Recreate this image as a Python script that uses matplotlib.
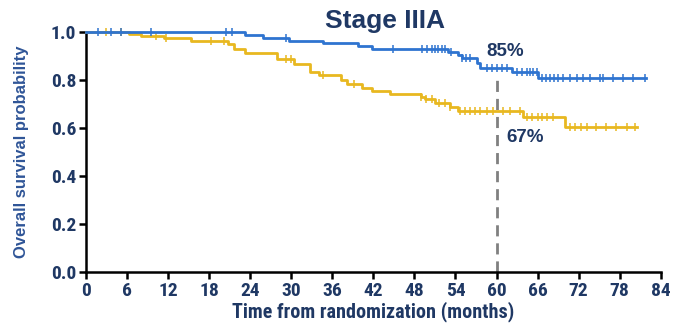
import matplotlib.pyplot as plt
from matplotlib import font_manager

# step curve data (months, survival)
blue_t = [0, 23.3, 25.8, 29.6, 34.7, 39.7, 41.8, 52.9, 54.4, 54.9, 57.1, 57.6, 62.2, 66.1, 81.9]
blue_s = [1.0, 0.988, 0.974, 0.964, 0.953, 0.942, 0.928, 0.918, 0.904, 0.890, 0.872, 0.849, 0.835, 0.807, 0.807]
blue_cens = [1.7, 3.6, 5.1, 9.5, 20.4, 21.4, 29.2, 44.9, 49.1, 49.8, 50.5, 51.0, 51.5, 52.0, 52.5,
             53.4, 55.0, 55.5, 56.1, 58.6, 59.3, 60.1, 60.8, 61.5, 63.0, 63.7, 64.4, 64.9, 65.4, 65.9,
             66.6, 67.2, 67.8, 68.4, 69.0, 69.7, 70.7, 71.7, 72.6, 73.6, 75.1, 75.6, 77.0, 78.5,
             79.9, 81.7]

yel_t = [0, 6.3, 8.0, 11.4, 15.3, 20.7, 21.6, 23.3, 27.9, 30.4, 32.8, 34.0, 37.2, 38.2, 40.4,
         41.8, 44.5, 48.9, 49.6, 51.0, 53.2, 54.4, 63.9, 70.0, 80.5]
yel_s = [1.0, 0.990, 0.983, 0.974, 0.964, 0.950, 0.928, 0.911, 0.886, 0.869, 0.835, 0.821, 0.800,
         0.783, 0.765, 0.754, 0.742, 0.731, 0.720, 0.705, 0.689, 0.672, 0.645, 0.606, 0.606]
yel_cens = [2.9, 5.1, 10.2, 11.7, 18.2, 20.1, 29.2, 29.9, 34.7, 39.1, 48.9, 49.7, 50.5, 51.6,
            52.4, 53.2, 54.7, 55.4, 56.1, 56.8, 57.6, 58.6, 59.5, 61.0, 62.0, 63.4, 64.4, 65.2,
            66.0, 66.7, 67.4, 68.3, 70.7, 71.5, 72.4, 73.2, 74.6, 76.0, 77.5, 79.0, 80.2]

x_ticks = list(range(0, 85, 6))
y_ticks = [0.0, 0.2, 0.4, 0.6, 0.8, 1.0]

navy = '#1f3864'
blue = '#2f74d0'
yellow = '#e8b820'


# look for a condensed bold face for the numbers and x label
def pick_narrow():
    fonts = font_manager.fontManager.ttflist
    for want in ['Liberation Sans Narrow', 'Roboto Condensed', 'Open Sans Condensed']:
        for f in fonts:
            if f.name == want and f.weight in (700, 'bold'):
                return font_manager.FontProperties(fname=f.fname)
    for f in fonts:
        if f.name == 'DejaVu Sans' and 'condensed' in str(f.stretch) and f.weight in (700, 'bold') \
                and f.style == 'normal':
            return font_manager.FontProperties(fname=f.fname)
    for f in fonts:
        if 'Condensed' in f.fname and f.weight in (700, 'bold') and f.style == 'normal':
            return font_manager.FontProperties(fname=f.fname)
    return font_manager.FontProperties(family='Liberation Sans', weight='bold')


narrow = pick_narrow()

fig = plt.figure(figsize=(6.77, 3.24), dpi=100)
ax = fig.add_axes([0.127, 0.160, 0.849, 0.741])


def surv_at(ts, ss, t):
    v = ss[0]
    for ti, si in zip(ts, ss):
        if ti <= t:
            v = si
    return v


ax.step(yel_t, yel_s, where='post', color=yellow, lw=2, clip_on=False, zorder=3)
ax.plot(yel_cens, [surv_at(yel_t, yel_s, t) for t in yel_cens], '|', color=yellow,
        ms=6, mew=1.1, clip_on=False, zorder=3)
ax.step(blue_t, blue_s, where='post', color=blue, lw=2, clip_on=False, zorder=4)
ax.plot(blue_cens, [surv_at(blue_t, blue_s, t) for t in blue_cens], '|', color=blue,
        ms=6, mew=1.1, clip_on=False, zorder=4)

ax.plot([60, 60], [0, 0.82], ls=(0, (4, 2.5)), color='#808080', lw=2, zorder=2)
ax.text(61.3, 0.92, '85%', color=navy, fontsize=13.5, fontweight='bold',
        family='Liberation Sans', ha='center', va='center')
ax.text(64.2, 0.56, '67%', color=navy, fontsize=13.5, fontweight='bold',
        family='Liberation Sans', ha='center', va='center')

ax.set_xlim(0, 84)
ax.set_ylim(0, 1.0)
ax.set_xticks(x_ticks)
ax.set_yticks(y_ticks)
ax.set_xticklabels([str(t) for t in x_ticks], fontproperties=narrow, fontsize=14, color=navy)
ax.set_yticklabels([f'{t:.1f}' for t in y_ticks], fontproperties=narrow, fontsize=14, color=navy)
ax.tick_params(axis='both', direction='out', length=5, width=1.8, pad=2)

for side in ['top', 'right']:
    ax.spines[side].set_visible(False)
for side in ['left', 'bottom']:
    ax.spines[side].set_linewidth(1.8)

ax.set_xlabel('Time from randomization (months)', fontproperties=narrow, fontsize=14.5,
              color=navy, labelpad=1)
ax.set_ylabel('Overall survival probability', family='Liberation Sans', fontsize=12,
              fontweight='bold', color='#2f5597', labelpad=16)
fig.text(0.569, 0.935, 'Stage IIIA', family='Liberation Sans', fontsize=19,
         fontweight='bold', color=navy, ha='center', va='center')

fig.savefig('out.png', dpi=100)
